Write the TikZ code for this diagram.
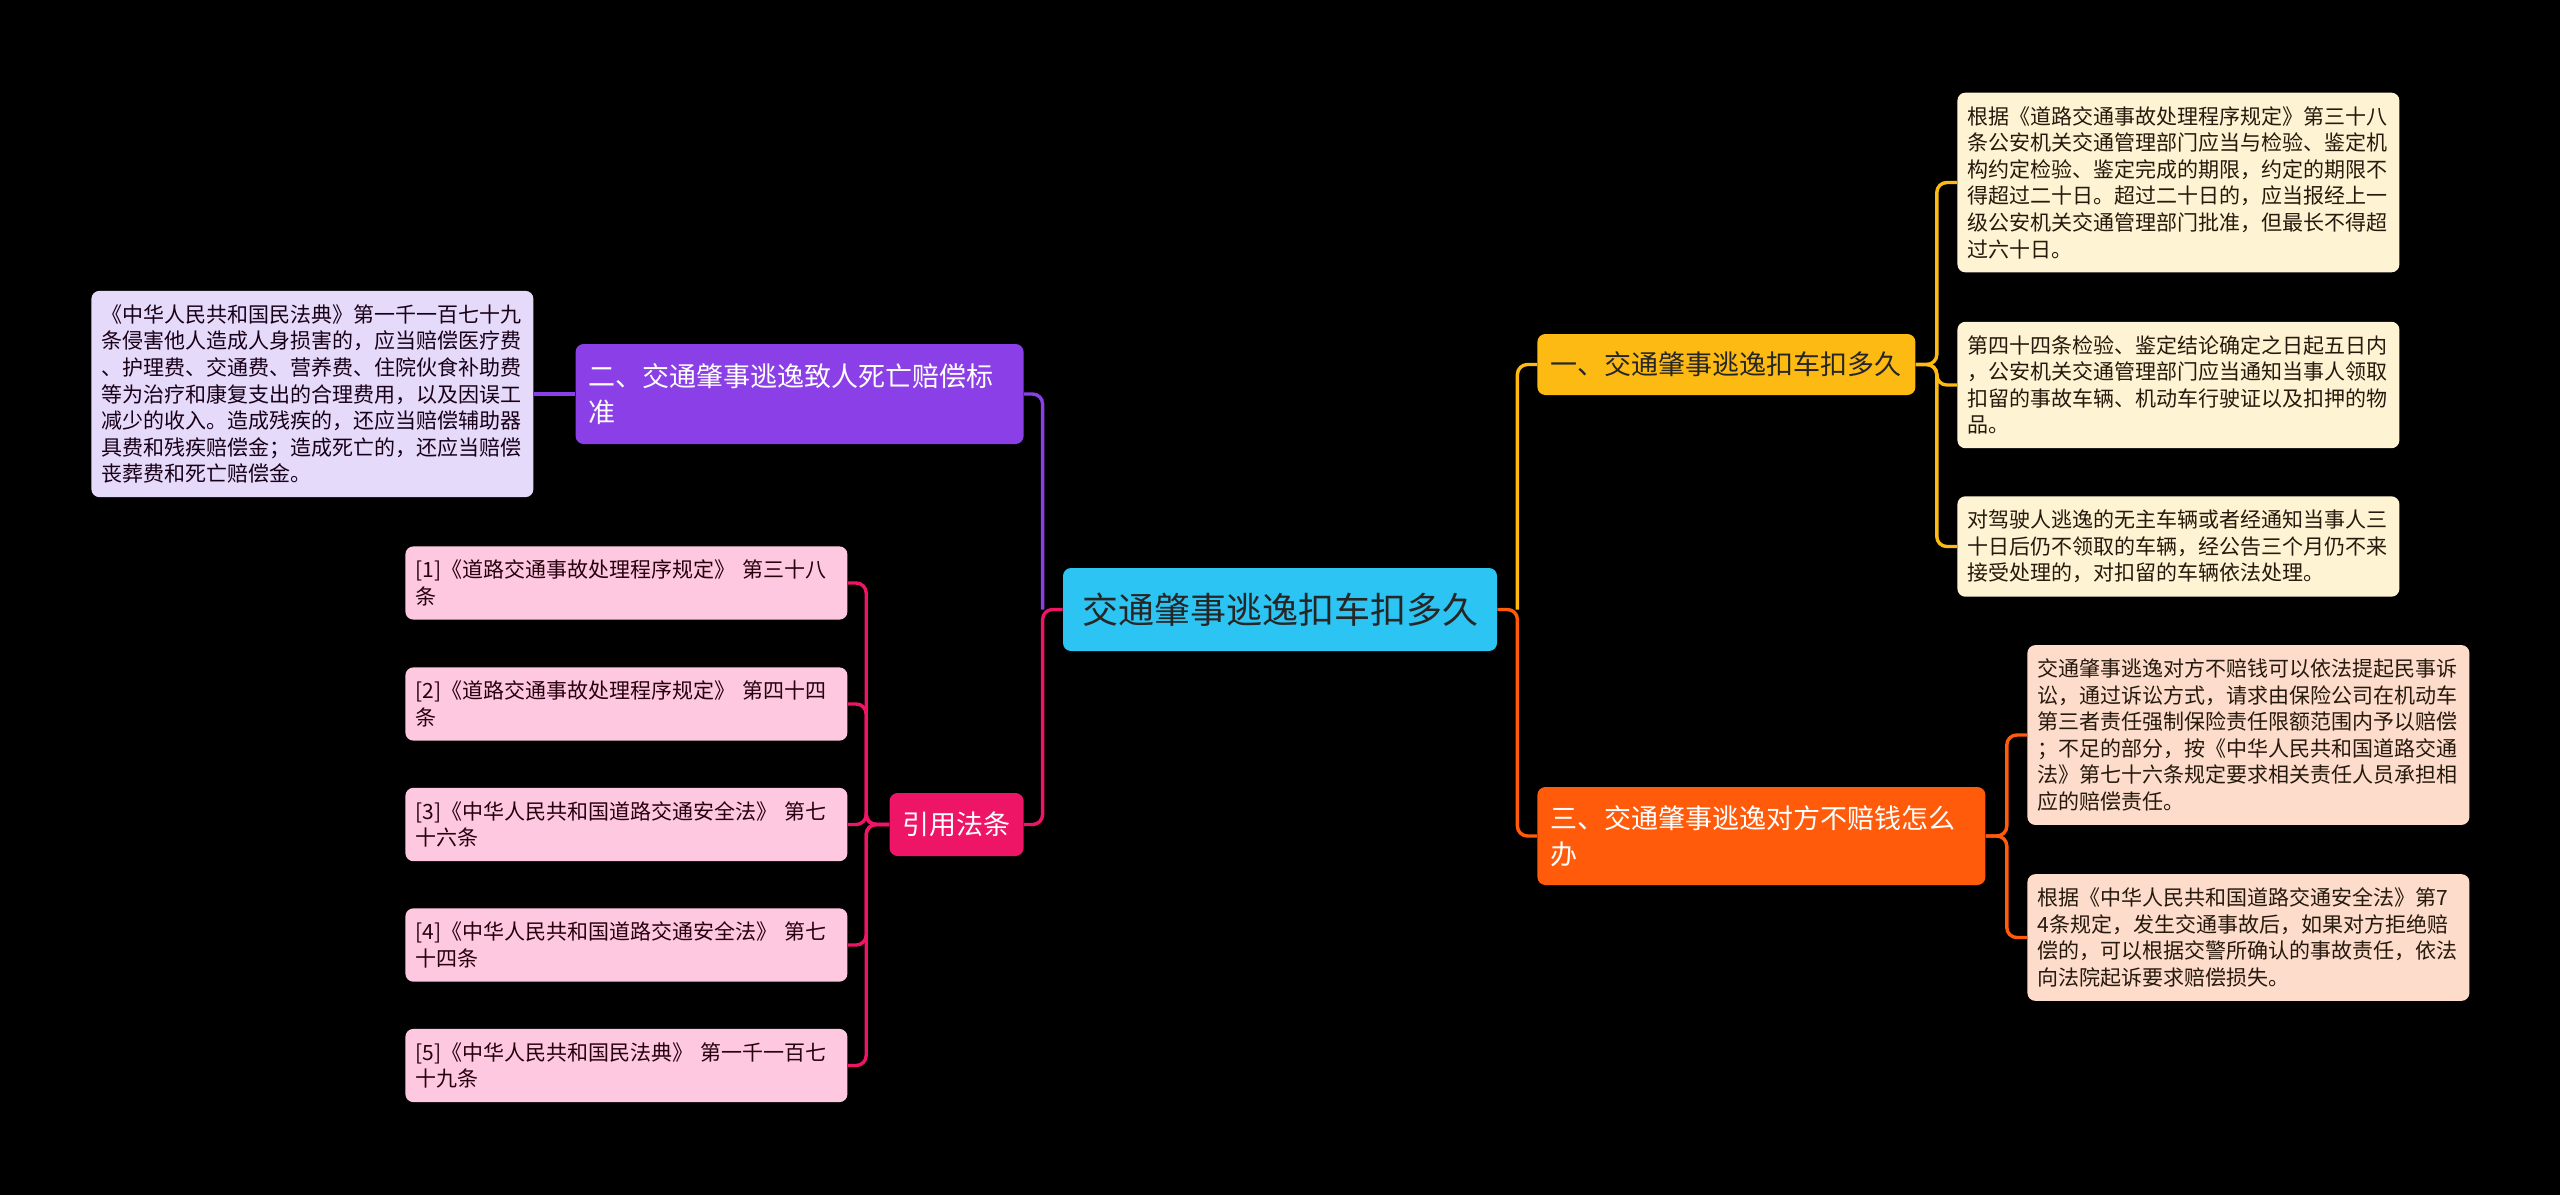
\documentclass[tikz,border=0pt]{standalone}
\usepackage{fontspec}
\setmainfont{Noto Sans CJK SC}
\definecolor{rootfill}{HTML}{2CC4F2}
\definecolor{onefill}{HTML}{FCBA12}
\definecolor{twofill}{HTML}{8B3FE6}
\definecolor{threefill}{HTML}{FF5B0B}
\definecolor{citefill}{HTML}{EE1466}
\definecolor{oneleaf}{HTML}{FEF3D2}
\definecolor{twoleaf}{HTML}{E6DAFA}
\definecolor{threeleaf}{HTML}{FDDCCB}
\definecolor{citeleaf}{HTML}{FEC8E1}
\begin{document}
\begin{tikzpicture}[x=0.5pt, y=-0.5pt,
        topic/.style={rounded corners=4pt, inner xsep=6.5pt, font=\fontsize{13.5}{18}\selectfont},
        leaf/.style={rounded corners=4pt, align=left, text width=211pt, inner xsep=5pt, inner ysep=6.8pt,
            font=\fontsize{10.5}{13.3}\selectfont},
        link/.style={line width=1.7pt, rounded corners=5pt}]
        \fill[black] (0,0) rectangle (2560,1195);

        % centre
        \node[fill=rootfill, text=black!85, rounded corners=4pt, minimum width=217pt, minimum height=41.5pt,
            font=\fontsize{18}{22}\selectfont] (root) at (1280,609.5) {交通肇事逃逸扣车扣多久};

        % right side
        \node[topic, fill=onefill, text=black!85, anchor=west, minimum width=189pt, minimum height=30.5pt]
            (one) at (1537,364.5) {一、交通肇事逃逸扣车扣多久};
        \node[topic, fill=threefill, text=white, anchor=west, align=left, text width=211pt, minimum height=49pt]
            (three) at (1537,836) {三、交通肇事逃逸对方不赔钱怎么\\办};

        \node[leaf, fill=oneleaf, text=black!80!brown, anchor=west] (o1) at (1957,182.5)
            {根据《道路交通事故处理程序规定》第三十八\\条公安机关交通管理部门应当与检验、鉴定机\\构约定检验、鉴定完成的期限，约定的期限不\\得超过二十日。超过二十日的，应当报经上一\\级公安机关交通管理部门批准，但最长不得超\\过六十日。};
        \node[leaf, fill=oneleaf, text=black!80!brown, anchor=west] (o2) at (1957,385)
            {第四十四条检验、鉴定结论确定之日起五日内\\，公安机关交通管理部门应当通知当事人领取\\扣留的事故车辆、机动车行驶证以及扣押的物\\品。};
        \node[leaf, fill=oneleaf, text=black!80!brown, anchor=west] (o3) at (1957,546.5)
            {对驾驶人逃逸的无主车辆或者经通知当事人三\\十日后仍不领取的车辆，经公告三个月仍不来\\接受处理的，对扣留的车辆依法处理。};

        \node[leaf, fill=threeleaf, text=black!80!brown, anchor=west] (t1) at (2027,735)
            {交通肇事逃逸对方不赔钱可以依法提起民事诉\\讼，通过诉讼方式，请求由保险公司在机动车\\第三者责任强制保险责任限额范围内予以赔偿\\；不足的部分，按《中华人民共和国道路交通\\法》第七十六条规定要求相关责任人员承担相\\应的赔偿责任。};
        \node[leaf, fill=threeleaf, text=black!80!brown, anchor=west] (t2) at (2027,937.5)
            {根据《中华人民共和国道路交通安全法》第7\\4条规定，发生交通事故后，如果对方拒绝赔\\偿的，可以根据交警所确认的事故责任，依法\\向法院起诉要求赔偿损失。};

        % left side
        \node[topic, fill=twofill, text=white, anchor=east, align=left, text width=211pt, minimum height=50pt]
            (two) at (1024,394) {二、交通肇事逃逸致人死亡赔偿标\\准};
        \node[topic, fill=citefill, text=white, anchor=east, minimum width=67pt, minimum height=31.5pt]
            (cite) at (1024,824.5) {引用法条};

        \node[leaf, fill=twoleaf, text=black!80!violet, anchor=west] (w1) at (91,394)
            {《中华人民共和国民法典》第一千一百七十九\\条侵害他人造成人身损害的，应当赔偿医疗费\\、护理费、交通费、营养费、住院伙食补助费\\等为治疗和康复支出的合理费用，以及因误工\\减少的收入。造成残疾的，还应当赔偿辅助器\\具费和残疾赔偿金；造成死亡的，还应当赔偿\\丧葬费和死亡赔偿金。};

        \node[leaf, fill=citeleaf, text=black!80!purple, anchor=west] (c1) at (405,583)
            {[1]《道路交通事故处理程序规定》 第三十八\\条};
        \node[leaf, fill=citeleaf, text=black!80!purple, anchor=west] (c2) at (405,704)
            {[2]《道路交通事故处理程序规定》 第四十四\\条};
        \node[leaf, fill=citeleaf, text=black!80!purple, anchor=west] (c3) at (405,824.5)
            {[3]《中华人民共和国道路交通安全法》 第七\\十六条};
        \node[leaf, fill=citeleaf, text=black!80!purple, anchor=west] (c4) at (405,945)
            {[4]《中华人民共和国道路交通安全法》 第七\\十四条};
        \node[leaf, fill=citeleaf, text=black!80!purple, anchor=west] (c5) at (405,1065.5)
            {[5]《中华人民共和国民法典》 第一千一百七\\十九条};

        % links
        \draw[link, threefill] (root.east) -- ++(10pt,0) |- (three.west);
        \draw[link, onefill] (root.east) ++(10pt,0) |- (one.west);
        \draw[link, onefill] (one.east) -- ++(10.5pt,0) |- (o1.west);
        \draw[link, onefill] (one.east) -- ++(10.5pt,0) |- (o2.west);
        \draw[link, onefill] (one.east) -- ++(10.5pt,0) |- (o3.west);
        \draw[link, threefill] (three.east) -- ++(10.5pt,0) |- (t1.west);
        \draw[link, threefill] (three.east) -- ++(10.5pt,0) |- (t2.west);

        \draw[link, citefill] (root.west) -- ++(-10pt,0) |- (cite.east);
        \draw[link, twofill] (root.west) ++(-10pt,0) |- (two.east);
        \draw[link, twofill] (two.west) -- (w1.east);
        \foreach \i in {1,...,5}
            \draw[link, citefill] (cite.west) -- ++(-11.5pt,0) |- (c\i.east);
\end{tikzpicture}
\end{document}
